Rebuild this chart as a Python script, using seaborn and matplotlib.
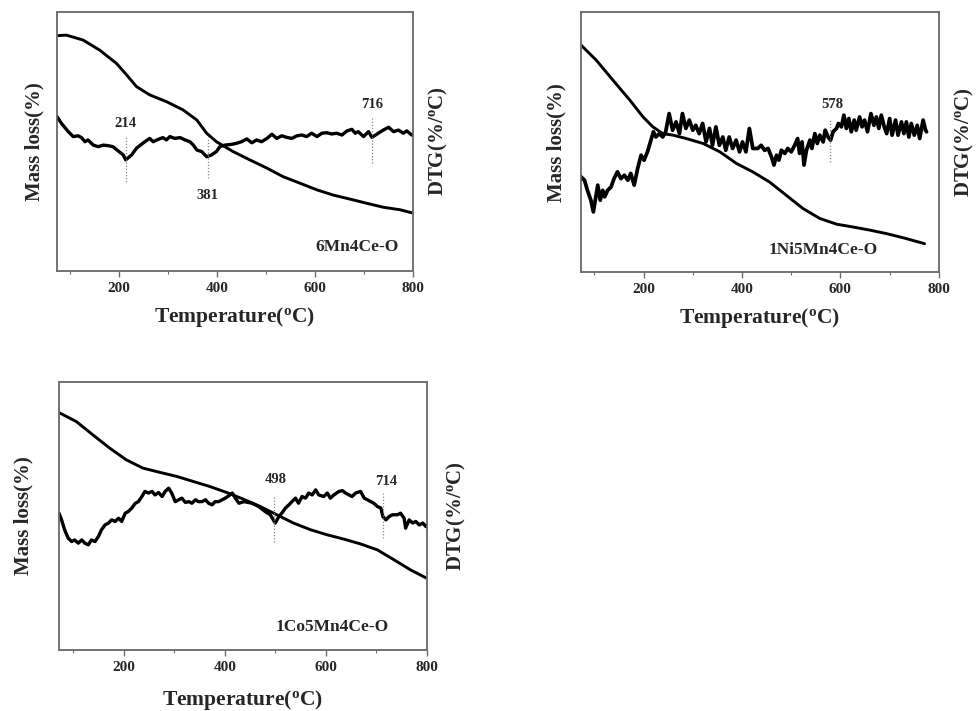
import matplotlib
matplotlib.use("Agg")
import matplotlib.pyplot as plt
from matplotlib.ticker import MultipleLocator
import seaborn as sns

# 6Mn4Ce-O  (temperature in C, curve height in % of the plot height)
t_tg1 = [74, 93, 127, 161, 195, 216, 236, 263, 297, 331, 359, 379, 399, 433, 467, 502, 535, 569,
         604, 637, 672, 706, 739, 774, 800]
tg1 = [90.9, 91.1, 89.2, 85.3, 80.2, 75.7, 71.2, 68.0, 65.4, 62.2, 58.3, 53.2, 49.9, 46.1, 42.9,
       39.7, 36.4, 33.9, 31.3, 29.3, 27.7, 26.1, 24.6, 23.6, 22.3]
t_dtg1 = [74, 83, 97, 107, 117, 124, 131, 137, 148, 158, 168, 178, 188, 199, 209, 214, 226, 236,
          246, 253, 263, 270, 280, 290, 297, 304, 314, 325, 335, 345, 352, 359, 369, 379, 389, 399,
          406, 416, 430, 440, 450, 461, 471, 481, 491, 502, 512, 522, 532, 542, 553, 563, 573, 583,
          593, 604, 614, 624, 634, 644, 655, 665, 675, 682, 688, 699, 709, 716, 729, 739, 750, 760,
          770, 780, 787, 797, 800]
dtg1 = [59.6, 57.0, 53.8, 51.9, 52.2, 51.5, 49.9, 50.6, 48.6, 48.0, 48.6, 48.4, 48.0, 46.3, 44.8,
        42.9, 44.8, 47.4, 48.9, 49.9, 51.2, 49.9, 50.8, 51.5, 50.6, 51.9, 51.2, 51.5, 50.6, 49.9,
        48.6, 46.7, 46.1, 44.1, 44.8, 46.1, 48.0, 48.6, 48.9, 49.3, 49.9, 51.0, 49.5, 50.6, 49.9,
        51.2, 52.8, 51.2, 52.2, 51.6, 51.2, 52.2, 52.5, 51.9, 53.2, 51.9, 53.2, 53.4, 52.9, 53.2,
        52.5, 54.1, 54.7, 53.2, 53.8, 51.9, 53.8, 51.6, 53.2, 54.4, 55.5, 53.8, 54.4, 53.2, 54.1,
        52.5, 52.5]

# 1Ni5Mn4Ce-O
t_tg2 = [73, 104, 138, 172, 199, 219, 239, 260, 287, 321, 355, 389, 422, 456, 490, 524, 558, 592,
         626, 660, 693, 727, 771]
tg2 = [87.3, 81.5, 73.8, 66.2, 59.7, 55.9, 53.3, 52.7, 51.4, 49.5, 46.3, 41.8, 38.6, 34.7, 29.6,
       24.5, 20.7, 18.5, 17.4, 16.2, 14.9, 13.3, 11.0]
t_dtg2 = [73, 80, 86, 93, 98, 103, 107, 112, 117, 121, 127, 134, 140, 147, 154, 161, 168, 174,
          181, 188, 195, 201, 208, 215, 220, 225, 232, 239, 245, 252, 259, 266, 273, 279, 286, 293,
          300, 306, 313, 320, 327, 334, 340, 347, 354, 361, 367, 374, 381, 388, 395, 401, 408, 415,
          422, 432, 439, 446, 453, 460, 465, 470, 475, 480, 487, 493, 500, 507, 513, 517, 522, 526,
          531, 538, 542, 548, 553, 558, 565, 569, 575, 580, 585, 592, 596, 602, 607, 612, 617, 622,
          628, 632, 639, 644, 649, 655, 662, 668, 673, 678, 683, 689, 694, 700, 705, 712, 717, 724,
          729, 734, 739, 744, 750, 756, 761, 768, 773, 775]
dtg2 = [36.7, 35.4, 31.5, 27.7, 23.2, 29.0, 33.5, 27.7, 31.5, 29.0, 31.5, 32.8, 36.0, 38.6, 36.0,
        37.3, 35.4, 38.0, 33.5, 39.9, 45.0, 43.1, 46.3, 50.8, 54.0, 52.0, 53.3, 52.0, 54.0, 61.0,
        54.6, 57.8, 53.3, 61.0, 55.3, 58.5, 54.6, 56.5, 53.3, 57.2, 50.1, 55.3, 48.8, 55.9, 48.8,
        52.0, 46.9, 52.0, 47.6, 50.8, 46.3, 50.1, 46.3, 55.3, 47.6,
        47.6, 48.8, 46.9, 47.6, 44.3, 41.2, 45.0, 43.1, 46.9, 45.7, 47.6, 46.3, 48.8, 51.4, 45.7,
        50.1, 41.2, 46.9, 50.8, 47.6, 53.3, 49.5, 52.7, 50.1, 54.6, 52.0, 50.8, 54.0, 55.3, 57.2,
        55.9, 60.4, 55.3, 59.1, 54.0, 58.5, 54.6, 59.7, 55.9, 58.5, 54.0, 61.0, 56.5, 59.7, 55.3,
        60.4, 55.9, 53.3, 59.1, 52.7, 58.5, 52.7, 57.8, 53.3, 57.8, 52.0, 57.2, 52.7, 56.5, 51.4,
        58.5, 54.6, 54.0]

# 1Co5Mn4Ce-O
t_tg3 = [72, 106, 139, 172, 205, 238, 272, 305, 338, 371, 404, 437, 470, 503, 536, 570, 603, 636,
         669, 702, 735, 768, 800]
tg3 = [88.5, 85.2, 80.2, 75.3, 70.9, 67.8, 66.2, 64.7, 62.8, 60.9, 58.7, 56.2, 53.5, 50.4, 47.3,
       44.8, 42.9, 41.3, 39.5, 37.3, 33.6, 29.8, 26.7]
t_dtg3 = [72, 77, 83, 90, 97, 103, 110, 117, 123, 130, 136, 143, 150, 156, 163, 170, 176, 183,
          190, 196, 203, 209, 216, 223, 229, 236, 242, 249, 256, 262, 269, 276, 282, 289, 295, 302,
          309, 315, 322, 329, 335, 342, 348, 355, 362, 368, 375, 381, 388, 395, 401, 408, 415, 421,
          428, 438, 454, 467, 480, 490, 500, 507, 513, 520, 527, 533, 540, 546, 553, 560, 566, 573,
          580, 586, 596, 603, 609, 616, 626, 633, 639, 646, 652, 659, 669, 676, 682, 689, 695, 702,
          709, 713, 719, 725, 732, 742, 748, 755, 758, 765, 772, 778, 785, 792, 798, 800]
dtg3 = [51.0, 48.5, 44.8, 41.7, 40.4, 41.0, 39.8, 41.0, 39.8, 39.2, 41.0, 40.4, 42.3, 44.8, 46.6,
        47.3, 48.5, 47.9, 49.1, 47.9, 51.0, 51.6, 52.9, 54.7, 55.3, 57.2, 59.1, 58.5, 59.1, 57.8,
        58.7, 57.2, 59.1, 60.3, 58.5, 55.3, 56.0, 56.6, 55.0, 55.3, 54.7, 56.0, 55.3, 55.3, 56.0,
        54.7, 54.1, 55.3, 55.3, 56.0, 56.6, 57.5, 58.5, 56.6, 54.7, 55.3,
        54.7, 53.5, 51.6, 50.4, 47.3, 49.7, 51.0, 52.9, 54.1, 55.3, 56.6, 54.7, 57.2, 56.6, 58.5,
        57.8, 59.7, 57.8, 57.2, 58.5, 56.6, 57.8, 59.1, 59.4, 58.5, 57.8, 57.2, 58.5, 59.1, 56.6,
        56.0, 55.3, 54.7, 53.5, 52.9, 49.7, 48.5, 49.7, 50.4, 50.4, 51.0, 49.1, 45.4, 48.5, 47.3,
        47.9, 46.6, 47.3, 46.0, 46.6]

samples = ["6Mn4Ce-O", "1Ni5Mn4Ce-O", "1Co5Mn4Ce-O"]
peaks = [[214, 381, 716], [578], [498, 714]]

sns.set_style("white")
plt.rcParams["font.family"] = ["Liberation Serif", "DejaVu Serif"]
plt.rcParams["font.weight"] = "bold"
plt.rcParams["mathtext.fontset"] = "custom"
plt.rcParams["mathtext.rm"] = "Liberation Serif:bold"
plt.rcParams["mathtext.it"] = "Liberation Serif:bold"
plt.rcParams["mathtext.bf"] = "Liberation Serif:bold"

fig = plt.figure(figsize=(9.79, 7.11), dpi=100)


def draw_panel(rect, xmin, t_tg, tg, t_dtg, dtg, name, name_xy, peak_list, peak_marks,
               lw_dtg=2.4, ypad=(9, 11), xpad=7):
    ax = fig.add_axes(rect)
    ax2 = ax.twinx()
    sns.lineplot(x=t_tg, y=tg, ax=ax, color="black", lw=2.1, estimator=None)
    sns.lineplot(x=t_dtg, y=dtg, ax=ax2, color="black", lw=lw_dtg, estimator=None)
    for a in (ax, ax2):
        a.set_ylim(0, 100)
        a.set_xlim(xmin, 800)
        a.set_yticks([])
        for s in a.spines.values():
            s.set_color("#6e6e6e")
            s.set_linewidth(1.1)
    ax.xaxis.set_major_locator(MultipleLocator(200))
    ax.xaxis.set_minor_locator(MultipleLocator(100))
    ax.tick_params(axis="x", which="major", bottom=True, length=4, width=1, color="#6e6e6e",
                   labelsize=11, pad=4)
    ax.tick_params(axis="x", which="minor", bottom=True, length=2.5, width=0.8, color="#6e6e6e")
    for lbl in ax.get_xticklabels():
        lbl.set_fontweight("bold")
    ax.set_xlabel("Temperature($^\\mathregular{o}$C)", fontsize=15.5, fontweight="bold",
                  labelpad=xpad)
    ax.set_ylabel("Mass loss(%)", fontsize=15, fontweight="bold", labelpad=ypad[0])
    ax2.set_ylabel("DTG(%/$^\\mathregular{o}$C)", fontsize=15, fontweight="bold",
                   labelpad=ypad[1])
    ax.text(name_xy[0], name_xy[1], name, ha="center", va="center", fontsize=12.5,
            fontweight="bold")
    for p, (lo, hi, ty, tx) in zip(peak_list, peak_marks):
        ax2.plot([p, p], [lo, hi], color="#888888", lw=0.9, ls=(0, (1, 1.5)))
        ax2.text(p + tx, ty, str(p), ha="center", va="center", fontsize=10.5, fontweight="bold")
    return ax, ax2


draw_panel([0.058, 0.619, 0.364, 0.364], 73.5, t_tg1, tg1, t_dtg1, dtg1, samples[0],
           (686, 9.3), peaks[0],
           [(34.5, 51.9, 57.0, 0), (35.8, 51.9, 29.3, 0), (41.6, 59.0, 64.4, 0)],
           ypad=(9, 10), xpad=7)
draw_panel([0.593, 0.617, 0.366, 0.366], 72, t_tg2, tg2, t_dtg2, dtg2, samples[1],
           (565, 8.5), peaks[1], [(42.4, 59.1, 64.4, 6)], lw_dtg=2.7, ypad=(10, 10), xpad=7)
draw_panel([0.060, 0.086, 0.376, 0.377], 71.4, t_tg3, tg3, t_dtg3, dtg3, samples[2],
           (613, 8.7), peaks[2], [(40.4, 57.2, 63.4, 2), (41.7, 58.5, 62.8, 6)],
           ypad=(18, 13), xpad=10)

fig.savefig("out.png", dpi=100)
